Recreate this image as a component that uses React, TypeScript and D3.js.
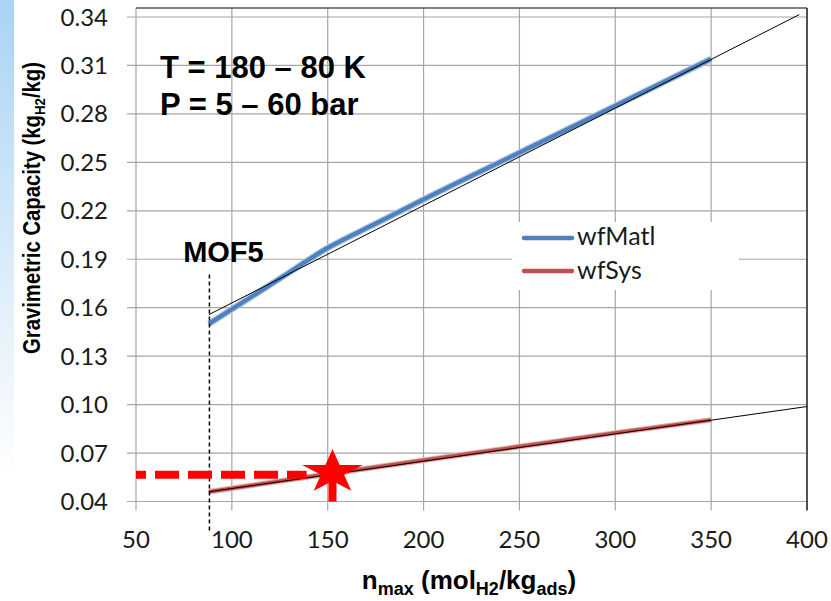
import React from 'react';
import * as d3 from 'd3';

// values
const nMatl = [88, 100, 125, 150, 175, 200, 250, 300, 350];
const wfMatl = [0.150, 0.159, 0.178, 0.197, 0.212, 0.227, 0.256, 0.285, 0.314];
const nSys = [88, 150, 200, 250, 300, 350];
const wfSys = [0.046, 0.057, 0.0655, 0.074, 0.0825, 0.0905];
const trendMatl = [[88, 0.1557], [396, 0.3415]];
const trendSys = [[88, 0.046], [400, 0.0988]];
const xTicks = [50, 100, 150, 200, 250, 300, 350, 400];
const yTicks = [0.04, 0.07, 0.10, 0.13, 0.16, 0.19, 0.22, 0.25, 0.28, 0.31, 0.34];
const mof5 = 88.3;
const target = { n: 152.5, wf: 0.0582, dash: 0.0565, dashEnd: 139 };

const W = 831;
const H = 601;

export default function App() {
  const x = d3.scaleLinear().domain([50, 400]).range([136, 807]);
  const y = d3.scaleLinear().domain([0.04, 0.34]).range([501.5, 17]);
  const yFrameTop = y(0.3455);

  const line = d3.line<[number, number]>()
    .x(d => x(d[0]))
    .y(d => y(d[1]))
    .curve(d3.curveMonotoneX);
  const straight = d3.line<number[]>().x(d => x(d[0])).y(d => y(d[1]));

  const matlPts = nMatl.map((n, i) => [n, wfMatl[i]] as [number, number]);
  const sysPts = nSys.map((n, i) => [n, wfSys[i]] as [number, number]);

  const star = d3.symbol().type(d3.symbolStar).size(600)();

  const fmt = d3.format('.2f');
  const tickFont = 'Lato, "Open Sans", sans-serif';
  const boldFont = 'Arial, "Liberation Sans", sans-serif';

  return (
    <div style={{ position: 'fixed', left: 0, top: 0 }}>
      <svg width={W} height={H} style={{ display: 'block', background: '#fff' }}>
        <defs>
          <linearGradient id="strip" x1="0" y1="0" x2="0" y2="1">
            <stop offset="0" stopColor="#a9d3f4" />
            <stop offset="0.25" stopColor="#c5e1f7" />
            <stop offset="0.55" stopColor="#e6f2fb" />
            <stop offset="0.8" stopColor="#ffffff" />
          </linearGradient>
        </defs>
        <rect x={0} y={0} width={14} height={H} fill="url(#strip)" />

        {/* grid */}
        {xTicks.map(t => (
          <g key={'x' + t}>
            <line x1={x(t)} x2={x(t)} y1={yFrameTop} y2={y(0.04)} stroke="#a6a6a6" strokeWidth={1.2} />
            <line x1={x(t)} x2={x(t)} y1={y(0.04)} y2={y(0.04) + 9} stroke="#a6a6a6" strokeWidth={1.2} />
            <text x={x(t)} y={y(0.04) + 46} textAnchor="middle" fontFamily={tickFont} fontSize={24} fill="#1a1a1a">{t}</text>
          </g>
        ))}
        {yTicks.map(t => (
          <g key={'y' + t}>
            <line x1={x(50) - 9} x2={x(400)} y1={y(t)} y2={y(t)} stroke="#a6a6a6" strokeWidth={1.2} />
            <text x={108} y={y(t) + 8.5} textAnchor="end" fontFamily={tickFont} fontSize={24} fill="#1a1a1a">{fmt(t)}</text>
          </g>
        ))}
        <line x1={x(50)} x2={x(400)} y1={yFrameTop} y2={yFrameTop} stroke="#595959" strokeWidth={1.5} />
        <line x1={x(400)} x2={x(400)} y1={yFrameTop} y2={y(0.04) + 9} stroke="#111" strokeWidth={1.3} />

        {/* legend box */}
        <rect x={512} y={222} width={227} height={68} fill="#fff" />
        <line x1={524} x2={572} y1={238} y2={238} stroke="#4f81bd" strokeWidth={4.5} strokeLinecap="round" />
        <text x={577} y={245} fontFamily={tickFont} fontSize={25} fill="#1a1a1a">wfMatl</text>
        <line x1={524} x2={572} y1={271} y2={271} stroke="#c0504d" strokeWidth={4.5} strokeLinecap="round" />
        <text x={577} y={279} fontFamily={tickFont} fontSize={25} fill="#1a1a1a">wfSys</text>

        {/* series */}
        <path d={line(matlPts) ?? ''} fill="none" stroke="#a9c4e6" strokeWidth={6.5} />
        <path d={line(matlPts) ?? ''} fill="none" stroke="#4f81bd" strokeWidth={4.2} />
        <path d={line(sysPts) ?? ''} fill="none" stroke="#e6a9a7" strokeWidth={5.5} />
        <path d={line(sysPts) ?? ''} fill="none" stroke="#c0504d" strokeWidth={3.5} />
        <path d={straight(trendMatl) ?? ''} fill="none" stroke="#000" strokeWidth={1} />
        <path d={straight(trendSys) ?? ''} fill="none" stroke="#000" strokeWidth={1} />

        {/* MOF5 marker */}
        <line x1={x(mof5)} x2={x(mof5)} y1={y(0.1805)} y2={y(0.0211)} stroke="#000" strokeWidth={1.5} strokeDasharray="4 3" />
        <text x={x(mof5) + 14} y={262} textAnchor="middle" fontFamily={boldFont} fontWeight="bold" fontSize={29} fill="#000">MOF5</text>

        {/* target */}
        <line x1={x(50)} x2={x(target.dashEnd)} y1={y(target.dash)} y2={y(target.dash)} stroke="#ff0000" strokeWidth={8} strokeDasharray="24 9" strokeDashoffset={14} />
        <line x1={x(target.n)} x2={x(target.n)} y1={y(0.04)} y2={y(target.wf)} stroke="#ff0000" strokeWidth={8} />
        <path d={star ?? ''} fill="#ff0000" transform={`translate(${x(target.n)},${y(target.wf)}) scale(1.38,1)`} />

        {/* annotation */}
        <text x={160} y={78} fontFamily={boldFont} fontWeight="bold" fontSize={31} fill="#000">T = 180 – 80 K</text>
        <text x={160} y={115} fontFamily={boldFont} fontWeight="bold" fontSize={31} fill="#000">P = 5 – 60 bar</text>

        {/* axis titles */}
        <text transform="translate(40,208) rotate(-90)" textAnchor="middle" fontFamily={boldFont} fontWeight="bold" fontSize={23} textLength={292} lengthAdjust="spacingAndGlyphs" fill="#000">
          Gravimetric Capacity (kg<tspan fontSize={15} dy={5}>H2</tspan><tspan dy={-5}>/kg)</tspan>
        </text>
        <text x={469} y={589} textAnchor="middle" fontFamily={boldFont} fontWeight="bold" fontSize={26} fill="#000">
          n<tspan fontSize={18} dy={6}>max</tspan><tspan dy={-6}> (mol</tspan><tspan fontSize={18} dy={6}>H2</tspan><tspan dy={-6}>/kg</tspan><tspan fontSize={18} dy={6}>ads</tspan><tspan dy={-6}>)</tspan>
        </text>
      </svg>
    </div>
  );
}
